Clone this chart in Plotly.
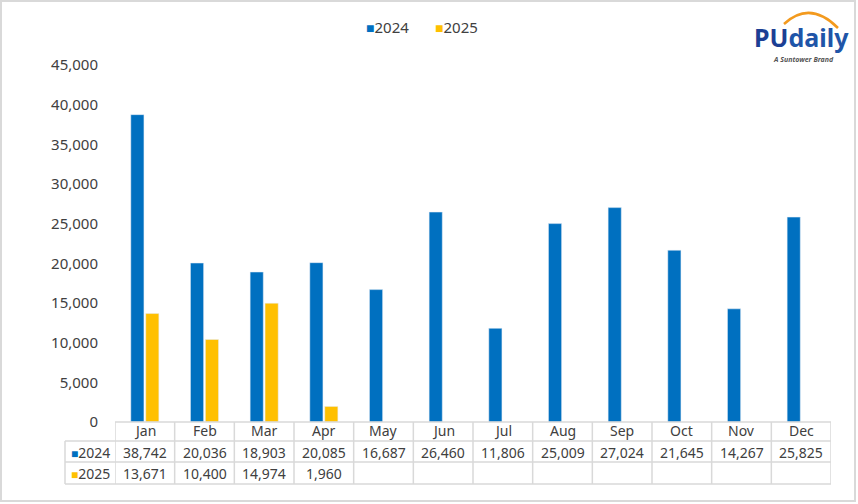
import plotly.graph_objects as go

months = ["Jan", "Feb", "Mar", "Apr", "May", "Jun", "Jul", "Aug", "Sep", "Oct", "Nov", "Dec"]
sales_2024 = [38742, 20036, 18903, 20085, 16687, 26460, 11806, 25009, 27024, 21645, 14267, 25825]
sales_2025 = [13671, 10400, 14974, 1960]
y_ticks = [0, 5000, 10000, 15000, 20000, 25000, 30000, 35000, 40000, 45000]
series_names = ["2024", "2025"]

BLUE = "#0070C0"
YELLOW = "#FFC000"
GRID = "#d9d9d9"
FONT = "Noto Sans"
TXT = "#404040"

W, H = 858, 504
L, R, T, B = 115, 27, 65, 82
PW = W - L - R
PH = H - T - B


def px(p):
    return (p - L) / PW


def py(p):
    return (H - B - p) / PH


fig = go.Figure()
fig.add_trace(go.Bar(x=list(range(12)), y=sales_2024, name=series_names[0], marker_color=BLUE))
fig.add_trace(go.Bar(x=list(range(len(sales_2025))), y=sales_2025, name=series_names[1], marker_color=YELLOW))

shapes = []
annotations = []

# table horizontal lines
for yy, x0 in [(422, L), (441, 65), (462, 65), (484, 65)]:
    shapes.append(dict(type="line", xref="paper", yref="paper", x0=px(x0), x1=1, y0=py(yy), y1=py(yy),
                       line=dict(color=GRID, width=1.5)))
# vertical lines
for i in range(13):
    shapes.append(dict(type="line", xref="x", yref="paper", x0=i - 0.5, x1=i - 0.5, y0=py(422), y1=py(484),
                       line=dict(color=GRID, width=1.5)))
shapes.append(dict(type="line", xref="paper", yref="paper", x0=px(65), x1=px(65), y0=py(441), y1=py(484),
                   line=dict(color=GRID, width=1.5)))
# outer border
shapes.append(dict(type="rect", xref="paper", yref="paper", x0=px(1), x1=px(855), y0=py(1), y1=py(501),
                   line=dict(color=GRID, width=2), fillcolor="rgba(0,0,0,0)"))
# logo arc
shapes.append(dict(type="path", xref="paper", yref="paper",
                   path=f"M {px(784)},{py(24)} Q {px(810)},{py(0)} {px(838)},{py(28)}",
                   line=dict(color="#F39A1E", width=2.5)))

tf = dict(family=FONT, size=14, color=TXT)
for i, m in enumerate(months):
    annotations.append(dict(x=i, y=py(431), xref="x", yref="paper", text=m, showarrow=False, font=tf,
                            xanchor="center", yanchor="middle"))
    annotations.append(dict(x=i, y=py(452), xref="x", yref="paper", text=f"{sales_2024[i]:,}",
                            showarrow=False, font=tf, xanchor="center", yanchor="middle"))
    if i < len(sales_2025):
        annotations.append(dict(x=i, y=py(473), xref="x", yref="paper", text=f"{sales_2025[i]:,}",
                                showarrow=False, font=tf, xanchor="center", yanchor="middle"))
annotations.append(dict(x=px(90), y=py(452), xref="paper", yref="paper", showarrow=False, font=tf,
                        xanchor="center", yanchor="middle",
                        text=f"<span style='color:{BLUE};font-size:12px'>■</span>{series_names[0]}"))
annotations.append(dict(x=px(90), y=py(473), xref="paper", yref="paper", showarrow=False, font=tf,
                        xanchor="center", yanchor="middle",
                        text=f"<span style='color:{YELLOW};font-size:12px'>■</span>{series_names[1]}"))
# legend (Excel style small squares)
lf = dict(family=FONT, size=15, color=TXT)
annotations.append(dict(x=px(387), y=py(27), xref="paper", yref="paper", showarrow=False, font=lf,
                        xanchor="center", yanchor="middle",
                        text=f"<span style='color:{BLUE};font-size:14px'>■</span>{series_names[0]}"))
annotations.append(dict(x=px(456), y=py(27), xref="paper", yref="paper", showarrow=False, font=lf,
                        xanchor="center", yanchor="middle",
                        text=f"<span style='color:{YELLOW};font-size:14px'>■</span>{series_names[1]}"))
# logo text
annotations.append(dict(x=px(801), y=py(37), xref="paper", yref="paper", showarrow=False,
                        xanchor="center", yanchor="middle",
                        text="<b><span style='color:#1C3F94'>PU</span>daily</b>",
                        font=dict(family="Noto Sans", size=25, color="#1F55A8")))
annotations.append(dict(x=px(803), y=py(59), xref="paper", yref="paper", showarrow=False,
                        xanchor="center", yanchor="middle",
                        text="<i><b>A Suntower Brand</b></i>", font=dict(family="Noto Sans", size=7, color="#555555")))

fig.update_layout(
    width=W, height=H,
    margin=dict(l=L, r=R, t=T, b=B),
    paper_bgcolor="white", plot_bgcolor="white",
    barmode="group", bargap=0.5, bargroupgap=0.12,
    font=dict(family=FONT, size=15, color=TXT),
    showlegend=False,
    xaxis=dict(range=[-0.5, 11.5], showticklabels=False, showgrid=False, zeroline=False, showline=False,
               ticks=""),
    yaxis=dict(range=[0, 45000], tickvals=y_ticks, tickformat=",", showgrid=False, zeroline=False,
               showline=False, tickfont=dict(family=FONT, size=15, color=TXT), ticklabelstandoff=16),
    shapes=shapes,
    annotations=annotations,
)

fig.write_html("out.html", config={"displayModeBar": False},
               post_script="document.body.style.margin='0';document.body.style.overflow='hidden';")
